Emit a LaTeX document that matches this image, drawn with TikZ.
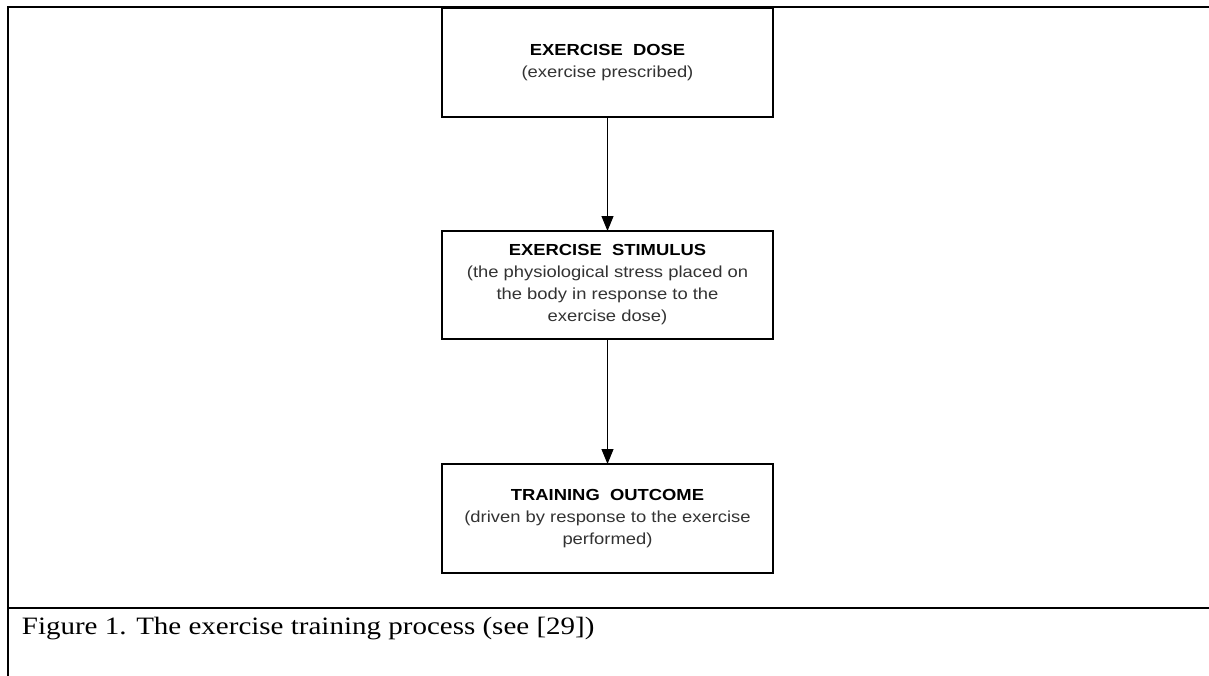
\documentclass[tikz,border=0pt]{standalone}
\usepackage{fontspec}
\usetikzlibrary{arrows.meta}
\newfontfamily\boxfont[FakeStretch=1.15]{Liberation Sans}
\newfontfamily\capfont[FakeStretch=1.16]{Liberation Serif}
\begin{document}
\begin{tikzpicture}[x=1pt,y=-1pt,
  frameline/.style={line width=2pt,line cap=rect},
  stagebox/.style={draw,line width=1.3pt,minimum width=331pt,minimum height=109pt,
    inner sep=0pt,outer sep=0pt,align=center,
    font=\boxfont\fontsize{16}{22}\selectfont,text=black!80},
  flowarrow/.style={line width=1pt,-{Triangle[width=12pt,length=15pt]}},
  ttl/.style={}]
\useasboundingbox (0,0) rectangle (1209,675);
\fill[white] (0,0) rectangle (1209,675);
% frame
\coordinate (tl) at (8,7);
\coordinate (tr) at (1212,7);
\coordinate (bl) at (8,680);
\coordinate (ml) at (8,608);
\coordinate (mr) at (1212,608);
\draw[frameline] (tr) -- (tl) -- (bl);
\draw[frameline] (ml) -- (mr);
% boxes
\node[stagebox] (b1) at (607.5,62.5) {{\bfseries\color{black}EXERCISE~~DOSE}\\(exercise prescribed)};
\node[stagebox,minimum height=108pt] (b2) at (607.5,285) {{\bfseries\color{black}EXERCISE~~STIMULUS}\\(the physiological stress placed on\\the body in response to the\\exercise dose)};
\node[stagebox] (b3) at (607.5,518.5) {{\bfseries\color{black}TRAINING~~OUTCOME}\\(driven by response to the exercise\\performed)};
\draw[flowarrow] (b1.south) -- (b2.north);
\draw[flowarrow] (b2.south) -- (b3.north);
% caption
\node[anchor=base west,inner sep=0pt,font=\capfont\fontsize{25}{30}\selectfont] (cap) at (21.7,634.3) {Figure 1. The exercise training process (see [29])};
\end{tikzpicture}
\end{document}
